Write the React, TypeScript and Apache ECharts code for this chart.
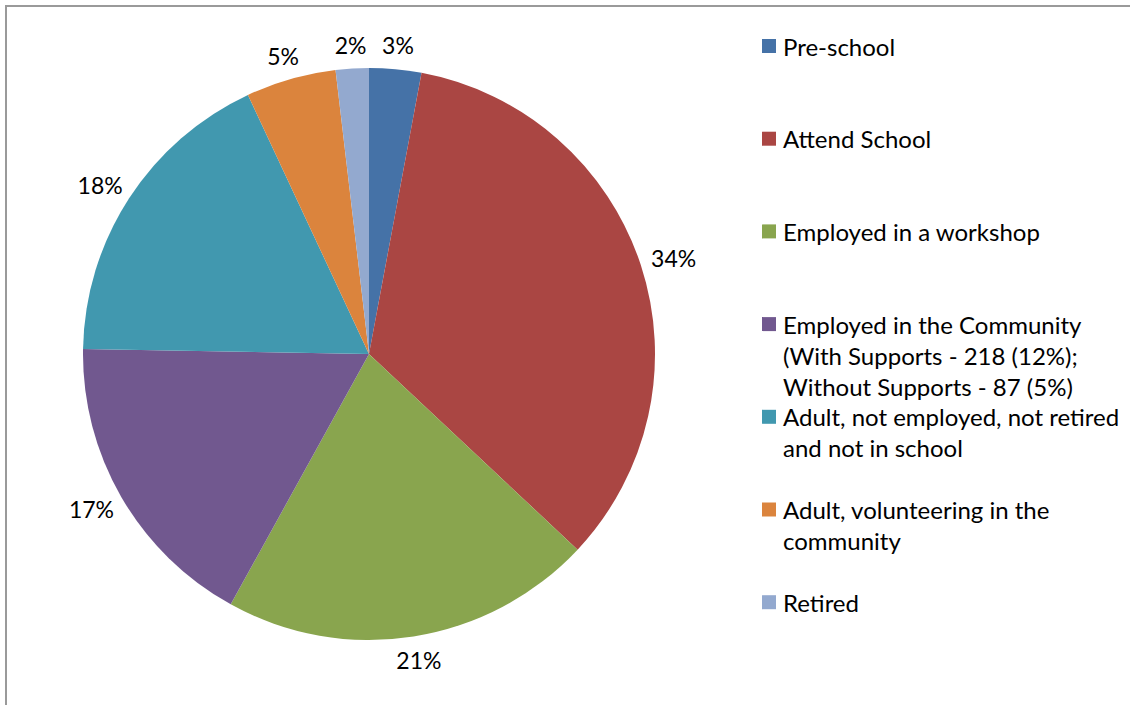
import React, { useEffect, useRef } from "react";
import * as echarts from "echarts";

// Activity categories (legend text keeps its line breaks)
const categories: string[] = [
  "Pre-school",
  "Attend School",
  "Employed in a workshop",
  "Employed in the Community\n(With Supports - 218 (12%);\nWithout Supports - 87 (5%)",
  "Adult, not employed, not retired\nand not in school",
  "Adult, volunteering in the\ncommunity",
  "Retired",
];

// Number of people in each category
const counts: number[] = [52, 602, 372, 305, 314, 90, 33];

const colors: string[] = [
  "#4572A7",
  "#AA4643",
  "#89A54E",
  "#71588F",
  "#4198AF",
  "#DB843D",
  "#93A9CF",
];

const FONT = "Lato, 'Open Sans', sans-serif";
const CX = 369;
const CY = 354;
const R = 286;
const LABEL_GAP = 12;
const LEGEND_FIRST = 46;
const LEGEND_STEP = 92.7;
const LINE_H = 31;

export default function App() {
  const ref = useRef<HTMLDivElement>(null);

  useEffect(() => {
    if (!ref.current) return;
    const chart = echarts.init(ref.current, undefined, { renderer: "svg" });

    const total = counts.reduce((a, b) => a + b, 0);
    const midAngles: number[] = [];
    let acc = 0;
    counts.forEach((v) => {
      midAngles.push(((acc + v / 2) / total) * Math.PI * 2);
      acc += v;
    });

    // One legend block per category so multi-line entries keep even spacing
    const legends = categories.map((name, i) => {
      const lines = name.split("\n").length;
      const totalLines = 2 * lines - 1;
      const center = LEGEND_FIRST + i * LEGEND_STEP;
      return {
        data: [name],
        orient: "vertical",
        left: 762,
        top: center - (totalLines * LINE_H) / 2,
        padding: 0,
        icon: "rect",
        itemWidth: 14,
        itemHeight: 14,
        formatter: (n: string) => "\n".repeat(n.split("\n").length - 1) + n,
        textStyle: {
          fontFamily: FONT,
          fontSize: 24,
          lineHeight: LINE_H,
          color: "#000",
          padding: [0, 0, 0, 2],
        },
      };
    });

    chart.setOption({
      animation: false,
      backgroundColor: "#fff",
      color: colors,
      legend: legends,
      graphic: [
        {
          type: "rect",
          silent: true,
          z: -10,
          shape: { x: 6, y: 6, width: 1400, height: 900 },
          style: { fill: "none", stroke: "#9a9a9a", lineWidth: 2 },
        },
      ],
      series: [
        {
          type: "pie",
          center: [CX, CY],
          radius: R,
          startAngle: 90,
          clockwise: true,
          percentPrecision: 0,
          emphasis: { scale: false },
          label: {
            show: true,
            position: "outside",
            formatter: "{d}%",
            fontFamily: FONT,
            fontSize: 23,
            color: "#000",
          },
          labelLine: { show: false },
          labelLayout: (p: any) => {
            const a = midAngles[p.dataIndex];
            const dx = Math.sin(a);
            const dy = -Math.cos(a);
            const w = p.labelRect.width;
            const h = 24;
            return {
              x: CX + (R + LABEL_GAP) * dx + (w / 2) * dx,
              y: CY + (R + LABEL_GAP) * dy + (h / 2) * dy,
              align: "center",
              verticalAlign: "middle",
            };
          },
          data: categories.map((name, i) => ({ name, value: counts[i] })),
        },
      ],
    });

    return () => chart.dispose();
  }, []);

  return (
    <div
      ref={ref}
      style={{
        position: "fixed",
        left: 0,
        top: 0,
        width: 1130,
        height: 705,
        background: "#fff",
      }}
    />
  );
}
